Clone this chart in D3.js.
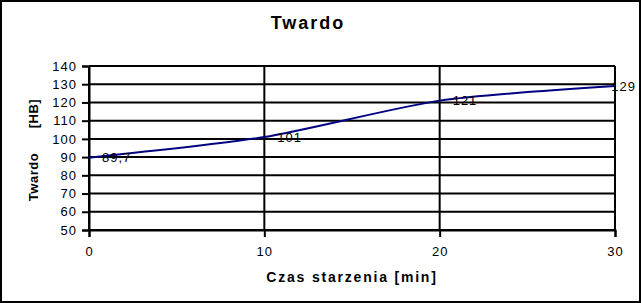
<!DOCTYPE html>
<html>
<head>
<meta charset="utf-8">
<script src="https://cdn.jsdelivr.net/npm/d3@7"></script>
<style>
  body { margin: 0; background: #fff; }
  svg { display: block; font-family: "Liberation Sans", Arial, sans-serif; }
</style>
</head>
<body>
<div id="chart"></div>
<script>
// Data
const times = [0, 10, 20, 30];
const hardness = [89.7, 101, 121, 129];
const pointLabels = ["89,7", "101", "121", "129"];
const xTicks = [0, 10, 20, 30];
const yTicks = [50, 60, 70, 80, 90, 100, 110, 120, 130, 140];

const width = 641, height = 303;
const margin = { left: 89, right: 26, top: 66, bottom: 73 };

const svg = d3.select("#chart").append("svg")
    .attr("width", width)
    .attr("height", height);

// Outer frame
svg.append("rect")
    .attr("x", 1).attr("y", 1)
    .attr("width", width - 2).attr("height", height - 2)
    .attr("fill", "#fff")
    .attr("stroke", "#000")
    .attr("stroke-width", 2);

const x = d3.scaleLinear().domain([0, 30]).range([margin.left, width - margin.right]);
const y = d3.scaleLinear().domain([50, 140]).range([height - margin.bottom, margin.top]);

// Grid lines
svg.append("g")
    .selectAll("line")
    .data(yTicks)
    .enter().append("line")
    .attr("x1", x(0)).attr("x2", x(30))
    .attr("y1", d => y(d)).attr("y2", d => y(d))
    .attr("stroke", "#000").attr("stroke-width", 2);

svg.append("g")
    .selectAll("line")
    .data(xTicks)
    .enter().append("line")
    .attr("x1", d => x(d)).attr("x2", d => x(d))
    .attr("y1", y(140)).attr("y2", y(50))
    .attr("stroke", "#000").attr("stroke-width", 2);

// Axes
const yAxis = svg.append("g")
    .attr("transform", `translate(${x(0)},0)`)
    .call(d3.axisLeft(y).tickValues(yTicks).tickSize(7).tickPadding(5));
const xAxis = svg.append("g")
    .attr("transform", `translate(0,${y(50)})`)
    .call(d3.axisBottom(x).tickValues(xTicks).tickSize(7).tickPadding(10));

[yAxis, xAxis].forEach(g => {
    g.select(".domain").attr("stroke-width", 2);
    g.selectAll(".tick line").attr("stroke-width", 2);
    g.selectAll("text")
        .attr("font-family", "Liberation Sans, Arial, sans-serif")
        .attr("font-size", "13px")
        .attr("letter-spacing", "1px")
        .attr("fill", "#000");
});

// Line
const line = d3.line()
    .x((d, i) => x(times[i]))
    .y(d => y(d))
    .curve(d3.curveCardinal.tension(0.3));

svg.append("path")
    .datum(hardness)
    .attr("d", line)
    .attr("fill", "none")
    .attr("stroke", "#000080")
    .attr("stroke-width", 2);

// Point labels (shifted left if they would leave the frame)
svg.append("g")
    .selectAll("text")
    .data(hardness)
    .enter().append("text")
    .attr("y", d => y(d))
    .attr("dy", "0.35em")
    .attr("font-size", "13px")
    .attr("letter-spacing", "1px")
    .attr("fill", "#000")
    .text((d, i) => pointLabels[i])
    .attr("x", function(d, i) {
        const w = this.getComputedTextLength();
        return Math.min(x(times[i]) + 13, width - 5 - w);
    });

// Title
svg.append("text")
    .attr("x", 308).attr("y", 29)
    .attr("text-anchor", "middle")
    .attr("font-size", "18px")
    .attr("font-weight", "bold")
    .attr("letter-spacing", "2px")
    .text("Twardo");

// Axis titles
svg.append("text")
    .attr("x", 352).attr("y", 282)
    .attr("text-anchor", "middle")
    .attr("font-size", "14px")
    .attr("font-weight", "bold")
    .attr("letter-spacing", "1.8px")
    .text("Czas starzenia [min]");

svg.append("text")
    .attr("transform", `translate(38,150) rotate(-90)`)
    .attr("text-anchor", "middle")
    .attr("font-size", "13px")
    .attr("font-weight", "bold")
    .attr("letter-spacing", "0.5px")
    .attr("xml:space", "preserve")
    .style("white-space", "pre")
    .text("Twardo      [HB]");
</script>
</body>
</html>
